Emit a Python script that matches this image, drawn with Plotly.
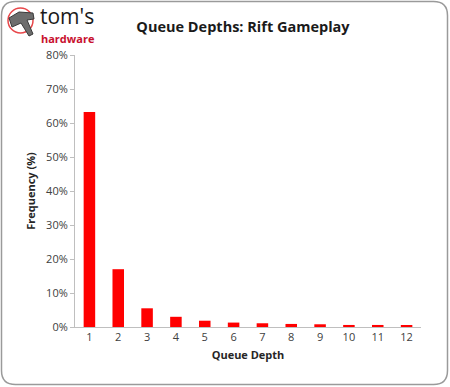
import plotly.graph_objects as go

categories = ["1", "2", "3", "4", "5", "6", "7", "8", "9", "10", "11", "12"]
frequency = [63.2, 17.0, 5.5, 3.0, 1.85, 1.3, 1.1, 0.9, 0.8, 0.6, 0.6, 0.45]
y_ticks = [0, 10, 20, 30, 40, 50, 60, 70, 80]
y_tick_labels = [f"{v}%" for v in y_ticks]

W, H = 450, 387
L, R, T, B = 75, 29, 55, 60
pw, ph = W - L - R, H - T - B

def px(x):
    return (x - L) / pw

def py(y):
    return (H - B - y) / ph

fig = go.Figure(go.Bar(
    x=categories, y=frequency,
    marker=dict(color="#ff0000", line=dict(width=0)),
    width=0.4,
))

# rounded frame
x0, x1, y0, y1, r = 1.5, 447.5, 1.5, 384.5, 14
frame = (f"M {px(x0+r)},{py(y0)} L {px(x1-r)},{py(y0)} Q {px(x1)},{py(y0)} {px(x1)},{py(y0+r)} "
         f"L {px(x1)},{py(y1-r)} Q {px(x1)},{py(y1)} {px(x1-r)},{py(y1)} "
         f"L {px(x0+r)},{py(y1)} Q {px(x0)},{py(y1)} {px(x0)},{py(y1-r)} "
         f"L {px(x0)},{py(y0+r)} Q {px(x0)},{py(y0)} {px(x0+r)},{py(y0)} Z")

# hammer icon
hammer = (f"M {px(9)},{py(18)} L {px(19)},{py(12)} L {px(33)},{py(13)} L {px(34)},{py(19)} "
          f"L {px(27)},{py(20)} L {px(33)},{py(34)} L {px(29)},{py(36)} L {px(21)},{py(23)} "
          f"L {px(12)},{py(27)} Z")

fig.update_layout(
    width=W, height=H,
    margin=dict(l=L, r=R, t=T, b=B),
    paper_bgcolor="white", plot_bgcolor="white",
    showlegend=False,
    bargap=0.6,
    font=dict(family="Open Sans, Liberation Sans, sans-serif", color="#404040", size=11),
    title=dict(text="<b>Queue Depths: Rift Gameplay</b>", x=243 / W, xanchor="center",
               y=1 - 27 / H, yanchor="middle",
               font=dict(size=14.5, color="#1a1a1a", family="Open Sans, sans-serif")),
    xaxis=dict(
        showline=True, linecolor="#bfbfbf", linewidth=1,
        ticks="", showgrid=False,
        title=dict(text="<b>Queue Depth</b>", font=dict(size=11, color="#262626"), standoff=8),
        tickfont=dict(size=11, color="#404040"),
    ),
    yaxis=dict(
        range=[0, 80], tickvals=y_ticks, ticktext=y_tick_labels,
        showline=True, linecolor="#bfbfbf", linewidth=1,
        ticks="outside", ticklen=4, tickcolor="#bfbfbf",
        showgrid=False, zeroline=False,
        title=dict(text="<b>Frequency (%)</b>", font=dict(size=11, color="#262626"), standoff=8),
        tickfont=dict(size=11, color="#404040"),
    ),
    shapes=[
        dict(type="path", xref="paper", yref="paper", path=frame,
             line=dict(color="#9a9a9a", width=1.5), layer="below"),
        dict(type="circle", xref="paper", yref="paper",
             x0=px(8), x1=px(33), y0=py(33), y1=py(8),
             line=dict(color="#e8474a", width=1.5)),
        dict(type="path", xref="paper", yref="paper", path=hammer,
             fillcolor="#6d6d6d", line=dict(color="#3a3a3a", width=1)),
    ],
    annotations=[
        dict(text="tom's", xref="paper", yref="paper", x=px(38), y=py(16),
             xanchor="left", yanchor="middle", showarrow=False,
             font=dict(size=21, color="#1a1a1a", family="Open Sans, sans-serif")),
        dict(text="<b>hardware</b>", xref="paper", yref="paper", x=px(39), y=py(38),
             xanchor="left", yanchor="middle", showarrow=False,
             font=dict(size=11, color="#c8102e", family="Open Sans, sans-serif")),
    ],
)

fig.write_html("out.html", config={"displayModeBar": False},
               post_script="document.body.style.margin='0';document.body.style.overflow='hidden';")
